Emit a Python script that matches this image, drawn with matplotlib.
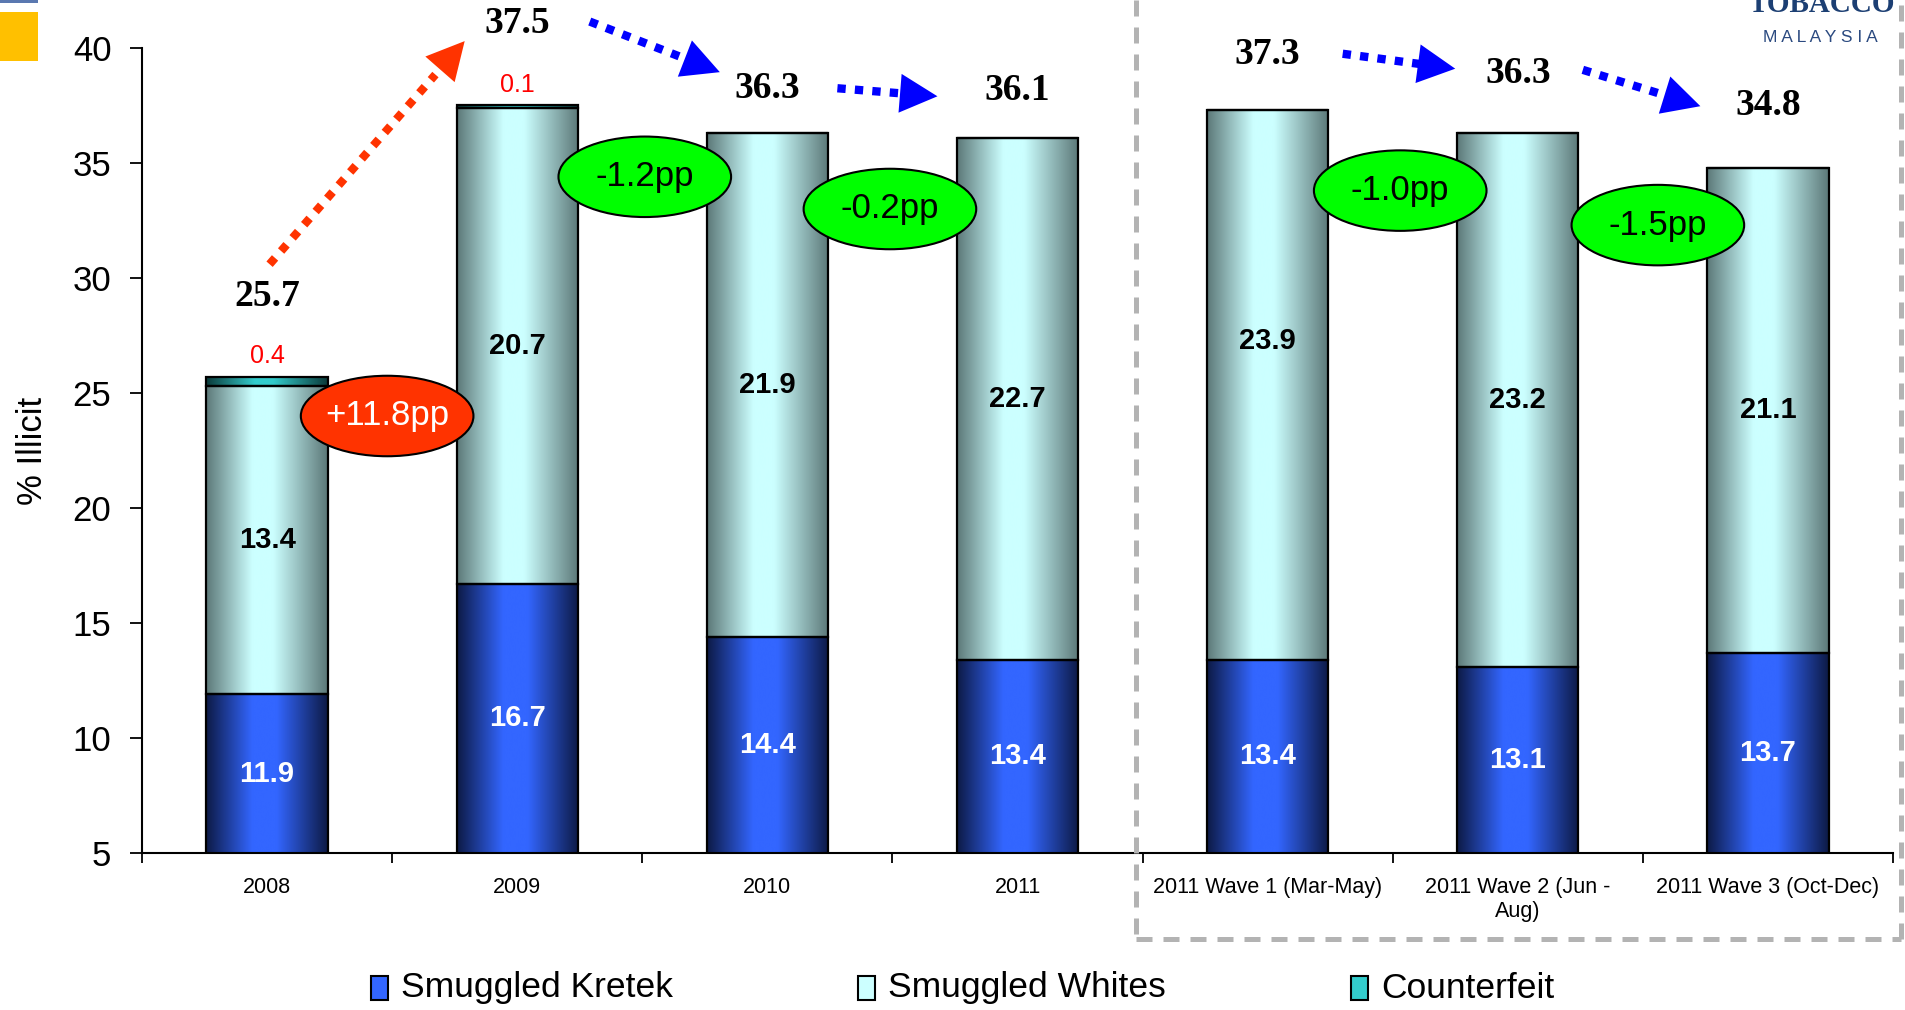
import matplotlib
matplotlib.use("Agg")
import matplotlib.pyplot as plt
import numpy as np
from matplotlib.colors import LinearSegmentedColormap
from matplotlib.patches import Ellipse, Rectangle
from matplotlib.lines import Line2D

##### Data #####
categories = ['2008', '2009', '2010', '2011', '2011 Wave 1 (Mar-May)',
              '2011 Wave 2 (Jun -\nAug)', '2011 Wave 3 (Oct-Dec)']
kretek = [11.9, 16.7, 14.4, 13.4, 13.4, 13.1, 13.7]
whites = [13.4, 20.7, 21.9, 22.7, 23.9, 23.2, 21.1]
counterfeit = [0.4, 0.1, 0.0, 0.0, 0.0, 0.0, 0.0]
totals = [25.7, 37.5, 36.3, 36.1, 37.3, 36.3, 34.8]

changes = ['+11.8pp', '-1.2pp', '-0.2pp', '-1.0pp', '-1.5pp']
change_x = [0.48, 1.51, 2.49, 4.53, 5.56]
change_y = [24.0, 34.4, 33.0, 33.8, 32.3]

##### Styling #####
plt.rcParams['font.family'] = ['Liberation Sans', 'DejaVu Sans']
total_offset = [3.5, 3.55, 1.95, 2.05, 2.4, 2.6, 2.7]
whites_shift = [0, 0, 0, 0, 1.9, 0, 0]

grad_kretek = LinearSegmentedColormap.from_list('k', [(0, '#0d1a45'), (0.38, '#3366ff'), (0.58, '#3366ff'), (1, '#0d1a45')])
grad_whites = LinearSegmentedColormap.from_list('w', [(0, '#5c7878'), (0.38, '#ccffff'), (0.55, '#ccffff'), (1, '#5c7878')])
grad_counter = LinearSegmentedColormap.from_list('c', [(0, '#0b3a3a'), (0.4, '#33cccc'), (0.55, '#33cccc'), (1, '#0b3a3a')])

fig = plt.figure(figsize=(19.05, 10.10), dpi=100)
ax = fig.add_axes([142/1905, 1 - 853/1010, 1751/1905, 805/1010])

x = np.arange(len(categories))
width = 0.485
bottom_w = np.array(kretek)
bottom_c = bottom_w + np.array(whites)

bars_k = ax.bar(x, kretek, width, facecolor='none', edgecolor='black', lw=1.6, zorder=3)
bars_w = ax.bar(x, whites, width, bottom=bottom_w, facecolor='none', edgecolor='black', lw=1.6, zorder=3)
bars_c = ax.bar(x, counterfeit, width, bottom=bottom_c, facecolor='none', edgecolor='black', lw=1.6, zorder=3)

grad = np.linspace(0, 1, 256).reshape(1, -1)
for bars, cmap in [(bars_k, grad_kretek), (bars_w, grad_whites), (bars_c, grad_counter)]:
    for p in bars:
        if p.get_height() <= 0:
            continue
        x0, y0 = p.get_x(), p.get_y()
        ax.imshow(grad, cmap=cmap, extent=[x0, x0 + p.get_width(), y0, y0 + p.get_height()],
                  aspect='auto', interpolation='bicubic', zorder=2)

ax.set_xlim(-0.5, len(categories) - 0.5)
ax.set_ylim(5, 40)

# segment labels
for i in range(len(categories)):
    ax.text(x[i], (5 + kretek[i]) / 2, f'{kretek[i]:.1f}', ha='center', va='center',
            color='white', fontsize=21, fontweight='bold', zorder=5)
    ax.text(x[i], kretek[i] + whites[i] / 2 + whites_shift[i], f'{whites[i]:.1f}', ha='center', va='center',
            color='black', fontsize=21, fontweight='bold', zorder=5)
    if counterfeit[i] > 0:
        ax.text(x[i], totals[i] + 0.9, f'{counterfeit[i]:.1f}', ha='center', va='center',
                color='red', fontsize=18, zorder=5, clip_on=False)
    ax.text(x[i], totals[i] + total_offset[i], f'{totals[i]:.1f}', ha='center', va='center',
            fontsize=27, fontweight='bold', family='Liberation Serif', zorder=5, clip_on=False)

# change ovals
for i, lab in enumerate(changes):
    up = lab.startswith('+')
    ax.add_patch(Ellipse((change_x[i], change_y[i]), 0.69, 3.5, facecolor='#ff3300' if up else '#00ff00',
                         edgecolor='black', lw=1.5, zorder=6, clip_on=False))
    ax.text(change_x[i], change_y[i], lab, ha='center', va='center', fontsize=25,
            color='white' if up else 'black', zorder=7)

# dotted arrows
arrows = [((0.01, 30.6), (0.79, 40.3), '#ff3300'),
          ((1.29, 41.15), (1.81, 38.95), '#0000ff'),
          ((2.28, 38.25), (2.68, 37.9), '#0000ff'),
          ((4.30, 39.75), (4.75, 39.1), '#0000ff'),
          ((5.26, 39.05), (5.73, 37.47), '#0000ff')]
for (sx, sy), (tx, ty), col in arrows:
    ax.plot([sx, sx + 0.85 * (tx - sx)], [sy, sy + 0.85 * (ty - sy)], color=col, lw=6,
            linestyle=(0, (1, 1.1)), clip_on=False, zorder=6)
    ax.annotate('', xy=(tx, ty), xytext=(sx, sy), annotation_clip=False, zorder=6,
                arrowprops=dict(arrowstyle='-|>,head_length=1.35,head_width=0.7', mutation_scale=20,
                                color=col, lw=0, shrinkA=0, shrinkB=0))

# axes styling
for s in ['top', 'right']:
    ax.spines[s].set_visible(False)
ax.spines['left'].set_linewidth(1.5)
ax.spines['bottom'].set_linewidth(1.5)
ax.set_yticks(np.arange(5, 41, 5))
ax.tick_params(axis='y', length=9, width=1.3, pad=13, labelsize=25)
ax.set_xticks(np.arange(-0.5, len(categories), 1))
ax.set_xticklabels([])
ax.tick_params(axis='x', which='major', length=7, width=1.3)
ax.set_xticks(x, categories, minor=True)
ax.tick_params(axis='x', which='minor', length=0, pad=17, labelsize=15.5)
ax.set_ylabel('% Illicit', fontsize=25, labelpad=17)

# dashed box around 2011 waves
box_kw = dict(color='#b3b3b3', lw=3.6, linestyle=(0, (3.2, 2.2)), transform=fig.transFigure)
fl, fr, fb = 1136/1905, 1901/1905, 1 - 939/1010
fig.add_artist(Line2D([fl, fl], [1.0, fb], **box_kw))
fig.add_artist(Line2D([fl, fr], [fb, fb], **box_kw))
fig.add_artist(Line2D([fr, fr], [fb, 1.0], **box_kw))

# legend
legend_items = [('Smuggled Kretek', '#3366ff', 371), ('Smuggled Whites', '#ccffff', 858), ('Counterfeit', '#33cccc', 1351)]
for lab, col, px in legend_items:
    fig.add_artist(Rectangle((px / 1905, 1 - 1000/1010), 17/1905, 24/1010, facecolor=col,
                             edgecolor='black', lw=1.5, transform=fig.transFigure))
    fig.text((px + 30) / 1905, 1 - 988/1010, lab, fontsize=25.5, va='center', ha='left')

# slide decorations
fig.add_artist(Rectangle((0, 1 - 61/1010), 38/1905, 49/1010, facecolor='#ffc000', edgecolor='none',
                         transform=fig.transFigure))
fig.add_artist(Rectangle((0, 1 - 3/1010), 38/1905, 3/1010, facecolor='#5a78b0', edgecolor='none',
                         transform=fig.transFigure))
fig.text(1822/1905, 1 - 4/1010, 'TOBACCO', fontsize=21, fontweight='bold', family='Liberation Serif',
         color='#1c3f73', ha='center', va='center')
fig.text(1820/1905, 1 - 38/1010, 'M A L A Y S I A', fontsize=12.5, color='#2b4a80', ha='center', va='center')

plt.savefig('out.png', dpi=100)
